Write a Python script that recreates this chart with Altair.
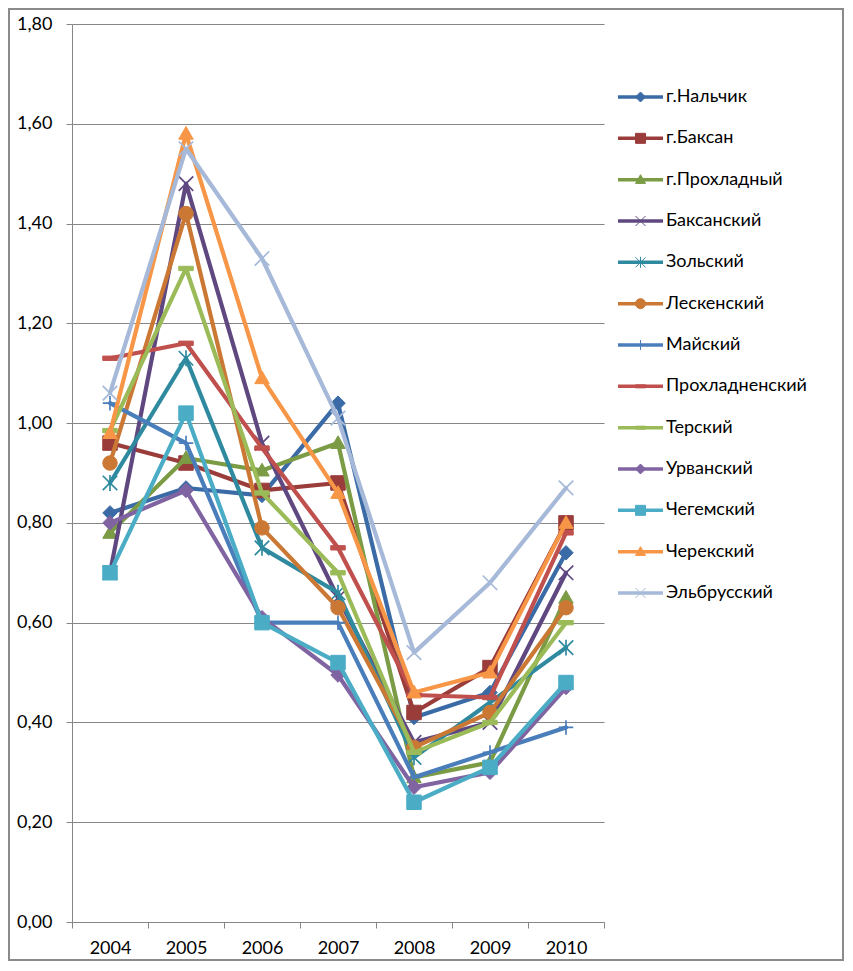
import altair as alt
import pandas as pd

FONT = "Lato"
GRID = "#868686"

years = ["2004", "2005", "2006", "2007", "2008", "2009", "2010"]

series = [
    "г.Нальчик", "г.Баксан", "г.Прохладный", "Баксанский", "Зольский",
    "Лескенский", "Майский", "Прохладненский", "Терский", "Урванский",
    "Чегемский", "Черекский", "Эльбрусский",
]

nalchik        = [0.82, 0.87, 0.855, 1.04, 0.41, 0.46, 0.74]
baksan         = [0.96, 0.92, 0.865, 0.88, 0.42, 0.51, 0.80]
prokhladny     = [0.78, 0.93, 0.905, 0.96, 0.29, 0.32, 0.65]
baksansky      = [0.70, 1.48, 0.96, 0.65, 0.36, 0.40, 0.70]
zolsky         = [0.88, 1.13, 0.75, 0.66, 0.33, 0.44, 0.55]
leskensky      = [0.92, 1.42, 0.79, 0.63, 0.35, 0.42, 0.63]
maysky         = [1.04, 0.96, 0.60, 0.60, 0.29, 0.34, 0.39]
prokhladnensky = [1.13, 1.16, 0.95, 0.75, 0.455, 0.45, 0.78]
tersky         = [0.985, 1.31, 0.86, 0.70, 0.34, 0.40, 0.60]
urvansky       = [0.80, 0.865, 0.61, 0.495, 0.27, 0.30, 0.47]
chegemsky      = [0.70, 1.02, 0.60, 0.52, 0.24, 0.31, 0.48]
chereksky      = [0.98, 1.58, 1.09, 0.86, 0.46, 0.50, 0.80]
elbrussky      = [1.06, 1.55, 1.33, 1.01, 0.54, 0.68, 0.87]

all_values = [nalchik, baksan, prokhladny, baksansky, zolsky, leskensky, maysky,
              prokhladnensky, tersky, urvansky, chegemsky, chereksky, elbrussky]

colors = ["#3B6BA6", "#9A3C3A", "#7B9B45", "#5F4880", "#2F8A9F", "#CB7835",
          "#4A7EBB", "#C0504D", "#9BBB59", "#8064A2", "#4BACC6", "#F79646", "#A6B9D8"]

DIAMOND = "M0,-1L1,0L0,1L-1,0Z"
SQUARE = "M-1,-1H1V1H-1Z"
TRIANGLE = "M0,-1L1,0.75L-1,0.75Z"
XMARK = "M-1,-1L1,1M-1,1L1,-1"
STAR = "M-1,-1L1,1M-1,1L1,-1M0,-1.1V1.1"
CIRCLE = "circle"
PLUS = "M0,-1V1M-1,0H1"
DASH = "M-1,-0.3H1V0.3H-1Z"
shapes = [DIAMOND, SQUARE, TRIANGLE, XMARK, STAR, CIRCLE, PLUS, DASH, DASH,
          DIAMOND, SQUARE, TRIANGLE, XMARK]

rows = []
for s, vals in zip(series, all_values):
    for yr, v in zip(years, vals):
        rows.append({"series": s, "year": yr, "value": v})
df = pd.DataFrame(rows)

color_scale = alt.Scale(domain=series, range=colors)
shape_scale = alt.Scale(domain=series, range=shapes)

x_enc = alt.X(
    "year:O", sort=years,
    scale=alt.Scale(type="band", domain=years, paddingInner=0, paddingOuter=0),
    axis=alt.Axis(title=None, tickBand="extent", labelAngle=0, labelFontSize=18,
                  labelFont=FONT, labelColor="#000000", labelPadding=11, tickSize=6,
                  tickColor=GRID, domainColor=GRID, grid=False),
)
y_enc = alt.Y(
    "value:Q",
    scale=alt.Scale(domain=[0, 1.8], nice=False, zero=True),
    axis=alt.Axis(title=None, values=[0, 0.2, 0.4, 0.6, 0.8, 1.0, 1.2, 1.4, 1.6, 1.8],
                  labelExpr="replace(format(datum.value, '.2f'), '.', ',')",
                  grid=True, gridColor=GRID, tickColor=GRID, tickSize=6,
                  domainColor=GRID, labelPadding=14, labelFontSize=18,
                  labelFont=FONT, labelColor="#000000"),
)

base = alt.Chart(df)
layers = []
for s in series:
    d = base.transform_filter(alt.datum.series == s)
    layers.append(
        d.mark_line(strokeWidth=4.2, strokeJoin="round", strokeCap="round").encode(
            x=x_enc, y=y_enc,
            color=alt.Color("series:N", scale=color_scale, legend=None),
        )
    )
    sw = 1.7 if s in ("Баксанский", "Зольский", "Майский", "Эльбрусский") else 1
    layers.append(
        d.mark_point(filled=True, size=210, opacity=1, strokeWidth=sw).encode(
            x=x_enc, y=y_enc,
            fill=alt.Fill("series:N", scale=color_scale, legend=None),
            stroke=alt.Stroke("series:N", scale=color_scale, legend=None),
            shape=alt.Shape("series:N", scale=shape_scale, legend=None),
        )
    )

plot = alt.layer(*layers)

# legend drawn from the series list through its own point scale
leg_df = pd.DataFrame({"series": series})
ly = alt.Y("series:N", sort=series,
           scale=alt.Scale(type="point", domain=series, range=[73, 569], padding=0),
           axis=None)
lbase = alt.Chart(leg_df)
leg_line = lbase.mark_rule(strokeWidth=3.5).encode(
    y=ly, x=alt.value(546), x2=alt.value(591),
    color=alt.Color("series:N", scale=color_scale, legend=None),
)
leg_pt = lbase.mark_point(filled=True, size=100, opacity=1, strokeWidth=1).encode(
    y=ly, x=alt.value(568.5),
    fill=alt.Fill("series:N", scale=color_scale, legend=None),
    stroke=alt.Stroke("series:N", scale=color_scale, legend=None),
    shape=alt.Shape("series:N", scale=shape_scale, legend=None),
)
leg_txt = lbase.mark_text(align="left", baseline="middle", fontSize=18, font=FONT,
                          color="#000000").encode(
    y=ly, x=alt.value(594), text="series:N",
)
legend = alt.layer(leg_line, leg_pt, leg_txt)

# chart-area frame
frame = alt.Chart(pd.DataFrame({"f": [1]})).mark_rect(
    filled=False, stroke="#8A8A8A", strokeWidth=2
).encode(x=alt.value(-63), x2=alt.value(771), y=alt.value(-15), y2=alt.value(936))

chart = (
    alt.layer(plot, legend, frame)
    .resolve_scale(y="independent")
    .properties(width=532, height=898, padding={"left": 0, "top": 0, "right": 0, "bottom": 0})
    .configure_view(stroke=None)
)

chart.save("out.html", embed_options={"renderer": "svg", "actions": False})
